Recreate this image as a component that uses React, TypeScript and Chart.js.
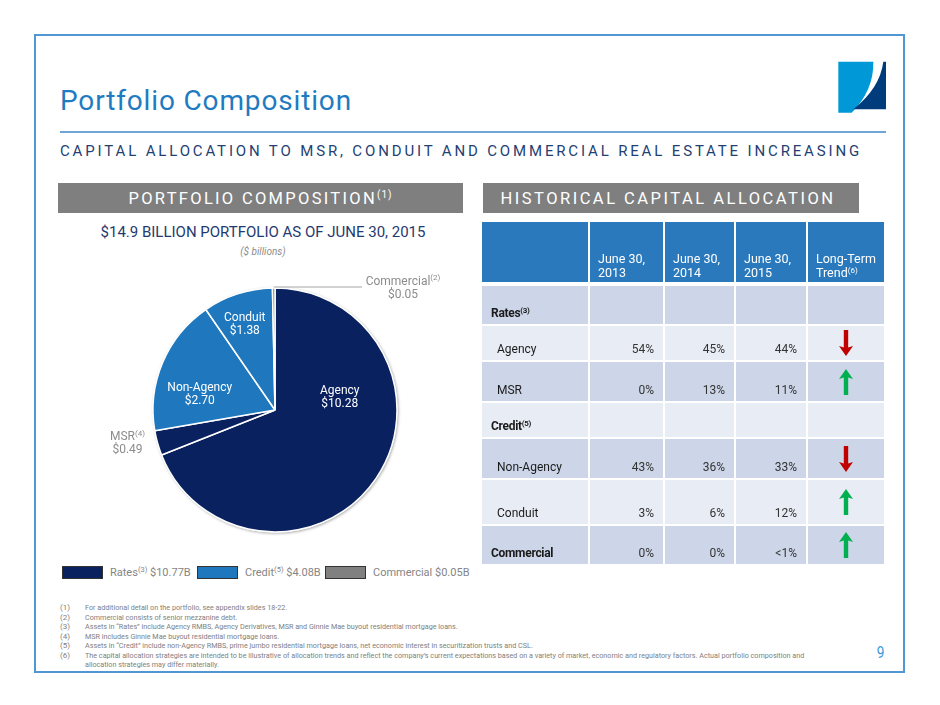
import React, { useEffect, useRef } from "react";
import { Chart, registerables } from "chart.js";
Chart.register(...registerables);

// ---------- data ----------
const sliceLabels = ["Agency", "MSR", "Non-Agency", "Conduit", "Commercial"];
const sliceValues = [10.28, 0.49, 2.7, 1.38, 0.05];
const sliceNotes = ["", "(4)", "", "", "(2)"];

const legendLabels = ["Rates", "Credit", "Commercial"];
const legendNotes = ["(3)", "(5)", ""];
const legendValues = [10.77, 4.08, 0.05];

const tableHeaders = [
  ["June 30,", "2013"],
  ["June 30,", "2014"],
  ["June 30,", "2015"],
  ["Long-Term", "Trend"],
];
const tableHeaderNotes = ["", "", "", "(6)"];
const rowLabels = ["Rates", "Agency", "MSR", "Credit", "Non-Agency", "Conduit", "Commercial"];
const rowNotes = ["(3)", "", "", "(5)", "", "", ""];
const rowIsGroup = [true, false, false, true, false, false, true];
const values2013 = ["", "54%", "0%", "", "43%", "3%", "0%"];
const values2014 = ["", "45%", "13%", "", "36%", "6%", "0%"];
const values2015 = ["", "44%", "11%", "", "33%", "12%", "<1%"];
const trends = ["", "down", "up", "", "down", "up", "up"];

const footnotes = [
  "For additional detail on the portfolio, see appendix slides 18-22.",
  "Commercial consists of senior mezzanine debt.",
  "Assets in \u201cRates\u201d include Agency RMBS, Agency Derivatives, MSR and Ginnie Mae buyout residential mortgage loans.",
  "MSR includes Ginnie Mae buyout residential mortgage loans.",
  "Assets in \u201cCredit\u201d include non-Agency RMBS, prime jumbo residential mortgage loans, net economic interest in securitization trusts and CSL.",
  "The capital allocation strategies are intended to be illustrative of allocation trends and reflect the company\u2019s current expectations based on a variety of market, economic and regulatory factors.  Actual portfolio composition and\nallocation strategies may differ materially.",
];

// ---------- styles ----------
const NAVY = "#0a2160";
const BLUE = "#1f78be";
const sliceColors = [NAVY, NAVY, BLUE, BLUE, "#808080"];
const legendColors = [NAVY, BLUE, "#808080"];
const FONT = "Roboto, 'Liberation Sans', sans-serif";

const labelStyle: any[] = [
  { frac: 0.32, rf: 0.54, color: "#ffffff" },
  { frac: 0.74, rf: 1.24, color: "#8c8c8c" },
  { frac: 0.33, rf: 0.63, color: "#ffffff" },
  { frac: 0.45, rf: 0.74, color: "#ffffff" },
  { leader: 87, textDx: 41, color: "#8c8c8c" },
];

function drawTwoLine(ctx: CanvasRenderingContext2D, cx: number, cy: number, main: string, note: string, second: string, color: string) {
  ctx.fillStyle = color;
  ctx.textBaseline = "middle";
  ctx.font = `12px ${FONT}`;
  const w1 = ctx.measureText(main).width;
  ctx.font = `8px ${FONT}`;
  const w2 = note ? ctx.measureText(note).width : 0;
  const total = w1 + w2;
  const x = cx - total / 2;
  ctx.textAlign = "left";
  ctx.font = `12px ${FONT}`;
  ctx.fillText(main, x, cy - 6.5);
  if (note) {
    ctx.font = `8px ${FONT}`;
    ctx.fillText(note, x + w1, cy - 10);
  }
  ctx.font = `12px ${FONT}`;
  ctx.textAlign = "center";
  ctx.fillText(second, cx, cy + 6.5);
}

const pieDecor = {
  id: "pieDecor",
  beforeDatasetsDraw(chart: any) {
    const meta = chart.getDatasetMeta(0);
    const a = meta.data[0];
    if (!a) return;
    const { x, y, outerRadius } = a.getProps(["x", "y", "outerRadius"], true);
    const ctx = chart.ctx;
    ctx.save();
    ctx.beginPath();
    ctx.arc(x, y, outerRadius + 0.5, 0, Math.PI * 2);
    ctx.fillStyle = "#ffffff";
    ctx.shadowColor = "rgba(0,0,0,0.35)";
    ctx.shadowBlur = 3;
    ctx.shadowOffsetX = 1;
    ctx.shadowOffsetY = 1;
    ctx.fill();
    ctx.restore();
  },
  afterDatasetsDraw(chart: any) {
    const meta = chart.getDatasetMeta(0);
    const ctx = chart.ctx;
    ctx.save();
    meta.data.forEach((arc: any, i: number) => {
      const p = arc.getProps(["x", "y", "startAngle", "endAngle", "outerRadius"], true);
      const st = labelStyle[i];
      const text = "$" + sliceValues[i].toFixed(2);
      if (st.leader) {
        const a = (p.startAngle + p.endAngle) / 2;
        const sx = p.x + p.outerRadius * Math.cos(a);
        const sy = p.y + p.outerRadius * Math.sin(a);
        const ex = p.x + st.leader;
        ctx.strokeStyle = "#a6a6a6";
        ctx.lineWidth = 1;
        ctx.beginPath();
        ctx.moveTo(sx, sy - 1);
        ctx.lineTo(ex, sy - 1);
        ctx.stroke();
        drawTwoLine(ctx, ex + st.textDx, sy, sliceLabels[i], sliceNotes[i], text, st.color);
      } else {
        const a = p.startAngle + st.frac * (p.endAngle - p.startAngle);
        const r = st.rf * p.outerRadius;
        drawTwoLine(ctx, p.x + r * Math.cos(a), p.y + r * Math.sin(a), sliceLabels[i], sliceNotes[i], text, st.color);
      }
    });
    ctx.restore();
  },
};

function PieChart() {
  const ref = useRef<HTMLCanvasElement>(null);
  useEffect(() => {
    if (!ref.current) return;
    const chart = new Chart(ref.current, {
      type: "pie",
      data: {
        labels: sliceLabels,
        datasets: [
          {
            data: sliceValues,
            backgroundColor: sliceColors,
            borderColor: "#ffffff",
            borderWidth: 1.5,
            hoverOffset: 0,
          },
        ],
      },
      options: {
        responsive: false,
        animation: false,
        events: [],
        radius: 122,
        layout: { padding: 0 },
        plugins: { legend: { display: false }, tooltip: { enabled: false }, title: { display: false } },
      } as any,
      plugins: [pieDecor],
    });
    return () => chart.destroy();
  }, []);
  return (
    <canvas
      ref={ref}
      width={430}
      height={300}
      style={{ position: "absolute", left: 60, top: 260, width: 430, height: 300 }}
    />
  );
}

function Arrow({ dir }: { dir: string }) {
  const color = dir === "up" ? "#00b050" : "#c00000";
  const path = dir === "up"
    ? "M7 0 L14 10 L9.2 8.5 L9.2 26 L4.8 26 L4.8 8.5 L0 10 Z"
    : "M7 26 L14 16 L9.2 17.5 L9.2 0 L4.8 0 L4.8 17.5 L0 16 Z";
  return (
    <svg width={14} height={26} viewBox="0 0 14 26">
      <path d={path} fill={color} />
    </svg>
  );
}

const colWidths = [106, 73, 69, 70, 76];
const rowHeights = [38, 34, 39, 34, 39, 44, 38];
const DARK_ROW = "#cdd6e8";
const LIGHT_ROW = "#e8ecf4";

function Table() {
  const cols = colWidths.map((w) => w + "px").join(" ");
  const cellBase: React.CSSProperties = {
    display: "flex",
    alignItems: "flex-end",
    paddingBottom: 4,
    boxSizing: "border-box",
    fontSize: 12,
    lineHeight: "13px",
    color: "#1a1a1a",
  };
  const valueCols = [values2013, values2014, values2015];
  return (
    <div style={{ position: "absolute", left: 482, top: 222, fontFamily: FONT }}>
      <div style={{ display: "grid", gridTemplateColumns: cols, columnGap: 2, height: 60, marginBottom: 4 }}>
        <div style={{ background: "#2a79bd" }} />
        {tableHeaders.map((h, i) => (
          <div key={i} style={{ ...cellBase, background: "#2a79bd", color: "#fff", paddingLeft: 8, fontSize: 12.5, lineHeight: "13.5px", paddingBottom: 3 }}>
            <div>
              <div>{h[0]}</div>
              <div>
                {h[1]}
                {tableHeaderNotes[i] ? <sup style={{ fontSize: 8, verticalAlign: "4px", lineHeight: 0 }}>{tableHeaderNotes[i]}</sup> : null}
              </div>
            </div>
          </div>
        ))}
      </div>
      <div style={{ display: "grid", gridTemplateColumns: cols, columnGap: 2, rowGap: 2, gridTemplateRows: rowHeights.map((h) => h + "px").join(" ") }}>
        {rowLabels.map((lab, r) => {
          const bg = r % 2 === 0 ? DARK_ROW : LIGHT_ROW;
          return [
            <div key={"l" + r} style={{ ...cellBase, background: bg, paddingLeft: rowIsGroup[r] ? 9 : 15, fontWeight: rowIsGroup[r] ? 700 : 400, letterSpacing: rowIsGroup[r] ? -0.3 : 0 }}>
              <span>
                {lab}
                {rowNotes[r] ? <sup style={{ fontSize: 8, verticalAlign: "4px", lineHeight: 0, fontWeight: 700 }}>{rowNotes[r]}</sup> : null}
              </span>
            </div>,
            ...valueCols.map((vc, c) => (
              <div key={"v" + r + "-" + c} style={{ ...cellBase, background: bg, justifyContent: "flex-end", paddingRight: 9, color: "#333" }}>
                {vc[r]}
              </div>
            )),
            <div key={"t" + r} style={{ background: bg, display: "flex", alignItems: "center", justifyContent: "center" }}>
              {trends[r] ? <Arrow dir={trends[r]} /> : null}
            </div>,
          ];
        })}
      </div>
    </div>
  );
}

function Legend() {
  const boxLefts = [62, 197, 325];
  return (
    <>
      {legendLabels.map((l, i) => (
        <div key={i} style={{ position: "absolute", left: boxLefts[i], top: 565, height: 14, display: "flex", alignItems: "center", fontFamily: FONT, fontSize: 11, color: "#858585", whiteSpace: "nowrap" }}>
          <div style={{ width: 41, height: 13, background: legendColors[i], border: "1.5px solid #333", boxSizing: "border-box", marginRight: 7 }} />
          <span>
            {l}
            {legendNotes[i] ? <sup style={{ fontSize: 7.5, verticalAlign: "4px", lineHeight: 0 }}>{legendNotes[i]}</sup> : null}
            {" $" + legendValues[i].toFixed(2) + "B"}
          </span>
        </div>
      ))}
    </>
  );
}

function Logo() {
  return (
    <svg style={{ position: "absolute", left: 836, top: 60 }} width={52} height={56} viewBox="836 60 52 56">
      <path d="M838.3 61.7 L873.3 61.7 Q874 90 851.7 112.7 L838.3 112.7 Z" fill="#0098d7" />
      <path d="M883.3 61.7 L886 61.7 L886 109.3 L853.3 109.3 Q880 88 883.3 61.7 Z" fill="#003c7c" />
    </svg>
  );
}

export default function App() {
  useEffect(() => {
    document.body.style.margin = "0";
  }, []);
  const barText: React.CSSProperties = {
    position: "absolute",
    top: 183,
    height: 30,
    background: "#7f7f7f",
    color: "#fff",
    display: "flex",
    alignItems: "center",
    justifyContent: "center",
    fontFamily: FONT,
    fontSize: 16.5,
    letterSpacing: 2.3,
    whiteSpace: "nowrap",
  };
  return (
    <div style={{ position: "absolute", left: 0, top: 0, width: 940, height: 705, background: "#fff", overflow: "hidden" }}>
      <div style={{ position: "absolute", left: 34, top: 34, width: 871, height: 639, border: "2px solid #4f98d4", boxSizing: "border-box" }} />
      <Logo />
      <div style={{ position: "absolute", left: 60, top: 87, fontFamily: FONT, fontSize: 28, lineHeight: "28px", letterSpacing: 0.85, color: "#1f7bc1", whiteSpace: "nowrap" }}>
        Portfolio Composition
      </div>
      <div style={{ position: "absolute", left: 60, top: 131, width: 826, height: 2, background: "#6ea6d8" }} />
      <div style={{ position: "absolute", left: 60, top: 144, fontFamily: FONT, fontSize: 15, lineHeight: "15px", letterSpacing: 2.85, color: "#243f72", whiteSpace: "nowrap" }}>
        CAPITAL ALLOCATION TO MSR, CONDUIT AND COMMERCIAL REAL ESTATE INCREASING
      </div>
      <div style={{ ...barText, left: 58, width: 405 }}>
        <span>
          PORTFOLIO COMPOSITION
          <sup style={{ fontSize: 10, verticalAlign: "6px", lineHeight: 0, letterSpacing: 1 }}>(1)</sup>
        </span>
      </div>
      <div style={{ ...barText, left: 483, width: 376, letterSpacing: 2.5, paddingRight: 6, boxSizing: "border-box" }}>HISTORICAL CAPITAL ALLOCATION</div>
      <div style={{ position: "absolute", left: 58, width: 410, top: 223, textAlign: "center", fontFamily: FONT, fontSize: 15, lineHeight: "18px", color: "#1f3a70", whiteSpace: "nowrap" }}>
        $14.9 BILLION PORTFOLIO AS OF JUNE 30, 2015
      </div>
      <div style={{ position: "absolute", left: 58, width: 410, top: 246, textAlign: "center", fontFamily: FONT, fontSize: 10, lineHeight: "12px", fontStyle: "italic", color: "#8c8c8c" }}>
        ($ billions)
      </div>
      <PieChart />
      <Legend />
      <Table />
      {footnotes.map((f, i) => {
        const lines = f.split("\n");
        return lines.map((ln, j) => (
          <div key={i + "-" + j} style={{ position: "absolute", top: 603 + (i + j) * 9.5, left: 0, height: 9, fontFamily: FONT, fontSize: 8, lineHeight: "9px", color: "#808080", whiteSpace: "nowrap" }}>
            {j === 0 ? <span style={{ position: "absolute", left: 60 }}>{"(" + (i + 1) + ")"}</span> : null}
            <span style={{ position: "absolute", left: 85, transform: "scaleX(0.9)", transformOrigin: "0 0" }}>{ln}</span>
          </div>
        ));
      })}
      <div style={{ position: "absolute", left: 876, top: 645, fontFamily: FONT, fontSize: 16, lineHeight: "16px", color: "#3d9ad9", transform: "scaleX(0.85)" }}>9</div>
    </div>
  );
}
